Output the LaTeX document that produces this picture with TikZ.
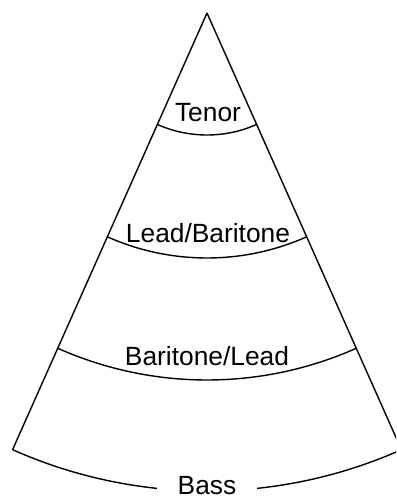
\documentclass[tikz,border=0pt]{standalone}
\usepackage{fontspec}
\setsansfont{Liberation Sans}
\begin{document}
\begin{tikzpicture}[x=0.02cm,y=0.02cm,font=\sffamily\fontsize{15}{17}\selectfont,line width=0.8pt]
\useasboundingbox (0,0) rectangle (396,500);
\clip (0,0) rectangle (396,500);
\coordinate (apex) at (207,487);
% sides of the cone
\draw (apex) -- ++(246:478);
\draw (apex) -- ++(294:478);
% bands, arcs round the apex
\foreach \r in {122,245,367,478}{
  \draw ([shift={(246:\r)}]apex) arc[start angle=246,end angle=294,radius=\r];
}
\node (tenor) at (208,387) {Tenor};
\node (leadbar) at (208,267) {Lead/Baritone};
\node (barlead) at (207,144) {Baritone/Lead};
\node[fill=white,inner xsep=12pt] (bass) at (207,14) {Bass};
\end{tikzpicture}
\end{document}
